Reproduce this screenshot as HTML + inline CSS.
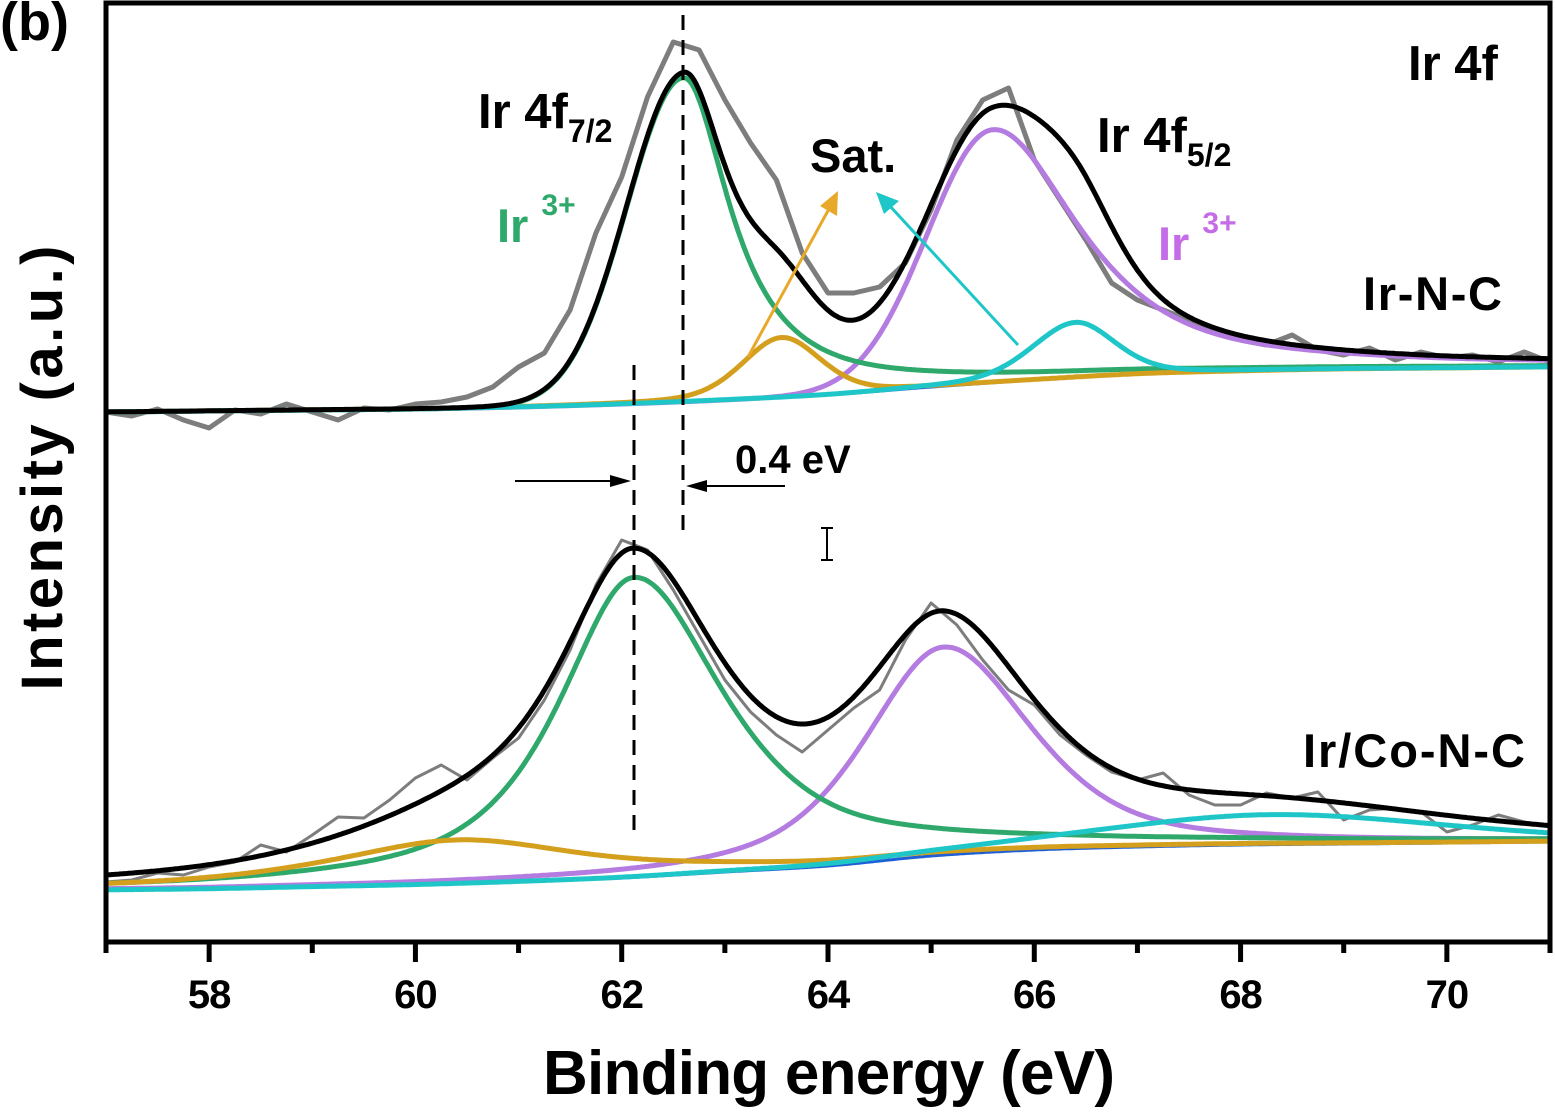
<!DOCTYPE html>
<html>
<head>
<meta charset="utf-8">
<style>
  html,body{margin:0;padding:0;background:#fff;}
  svg{display:block;}
  text{font-family:"Liberation Sans",Arial,sans-serif;font-weight:bold;}
</style>
</head>
<body>
<svg id="chart" width="1555" height="1118" viewBox="0 0 1555 1118" xmlns="http://www.w3.org/2000/svg">
  <g id="curves"></g>
  <g id="annot">
    <line x1="683" y1="15" x2="683" y2="535" stroke="#000" stroke-width="3" stroke-dasharray="15 10"/>
    <line x1="634" y1="365" x2="634" y2="838" stroke="#000" stroke-width="3" stroke-dasharray="15 10"/>
    <line x1="515" y1="481" x2="612" y2="481" stroke="#000" stroke-width="2"/>
    <polygon points="631,481 610,475 610,487" fill="#000"/>
    <line x1="785" y1="486" x2="704" y2="486" stroke="#000" stroke-width="2"/>
    <polygon points="686,486 707,480 707,492" fill="#000"/>
    <line x1="748" y1="357" x2="830" y2="207" stroke="#e8a92a" stroke-width="3"/>
    <polygon points="838,191 837,216 820,206" fill="#e8a92a"/>
    <line x1="1018" y1="345" x2="889" y2="205" stroke="#1fc6c8" stroke-width="3"/>
    <polygon points="876,192 899,201 884,214" fill="#1fc6c8"/>
    <g stroke="#000" stroke-width="2">
      <line x1="827" y1="528" x2="827" y2="560"/>
      <line x1="821" y1="528" x2="833" y2="528"/>
      <line x1="821" y1="560" x2="833" y2="560"/>
    </g>
  </g>
  <rect x="106" y="3" width="1444" height="939" fill="none" stroke="#000" stroke-width="5"/>
  <g id="xaxis"></g>
  <text x="0" y="40" font-size="54">(b)</text>
  <text x="1408" y="80" font-size="49">Ir 4f</text>
  <text x="478" y="128" font-size="49">Ir 4f<tspan font-size="32" dy="14">7/2</tspan></text>
  <text x="1097" y="152" font-size="49">Ir 4f<tspan font-size="32" dy="14">5/2</tspan></text>
  <text x="497" y="242" font-size="47" fill="#2ea86b">Ir <tspan font-size="30" dy="-27">3+</tspan></text>
  <text x="1158" y="260" font-size="47" fill="#c56de6">Ir <tspan font-size="30" dy="-27">3+</tspan></text>
  <text x="810" y="172" font-size="47">Sat.</text>
  <text x="1363" y="310" font-size="47" textLength="139">Ir-N-C</text>
  <text x="1303" y="767" font-size="47" textLength="222">Ir/Co-N-C</text>
  <text x="735" y="473" font-size="40">0.4 eV</text>
  <text x="829" y="1094" font-size="62" text-anchor="middle" textLength="572">Binding energy (eV)</text>
  <text transform="translate(62,468) rotate(-90)" font-size="58" text-anchor="middle" textLength="445">Intensity (a.u.)</text>
</svg>
<script>
// ---- data ----
const xTicks = [58, 60, 62, 64, 66, 68, 70];
const xMinorTicks = [57, 59, 61, 63, 65, 67, 69, 71];
const bgEnergies = [57, 58, 59, 60, 61, 62, 63, 64, 65, 66, 67, 68, 69, 70, 71];
const bgTop = [530, 531, 532, 533, 535, 538, 542, 547, 555, 562, 568, 571, 573, 574, 575];
const bgBottom = [52, 53, 55, 57, 60, 64, 70, 76, 86, 92, 95, 97, 98, 99, 100];
const componentNames = ["ir3-4f72", "satellite-1", "ir3-4f52", "satellite-2"];
const topCenters = [62.6, 63.55, 65.6, 66.4];
const topHeights = [324, 60, 253, 55];
const topFwhmLeft = [1.3, 0.9, 1.5, 1.0];
const topFwhmRight = [1.1, 0.9, 2.0, 0.9];
const topEtaLeft = [0.0, 0.3, 0.0, 0.3];
const topEtaRight = [1.0, 0.3, 0.8, 0.3];
const botCenters = [62.12, 60.4, 65.12, 68.3];
const botHeights = [300, 44, 208, 30];
const botFwhmLeft = [1.75, 3.0, 1.8, 4.0];
const botFwhmRight = [2.1, 3.0, 2.0, 4.0];
const botEtaLeft = [0.8, 0.9, 0.55, 0.3];
const botEtaRight = [0.8, 0.9, 0.55, 0.3];
const rawStart = 57, rawStep = 0.25;
const rawTop = [530,526,533,522,514,532,528,538,530,522,534,532,538,540,545,555,575,589,632,709,765,845,900,892,842,799,762,689,649,649,655,679,732,802,842,854,782,742,702,659,642,632,622,612,602,597,607,592,587,594,582,590,584,587,580,590,580];
const rawBottom = [60,62,69,67,75,80,97,90,107,125,124,142,164,177,162,184,204,242,292,357,402,392,352,307,262,230,207,190,212,234,252,302,339,317,282,252,237,207,187,170,162,169,147,137,137,149,144,150,122,132,134,130,110,117,127,120,115];

// ---- scales ----
const X0 = 106, X1 = 1550, EMIN = 57, EMAX = 71, YBASE = 942;
function xs(e){ return X0 + (e - EMIN) * (X1 - X0) / (EMAX - EMIN); }
function ys(v){ return YBASE - v; }

const NS = "http://www.w3.org/2000/svg";
const curves = document.getElementById("curves");
const xaxis = document.getElementById("xaxis");

function bgAt(arr, e){
  const t = (e - bgEnergies[0]);
  let i = Math.floor(t); if (i < 0) i = 0; if (i > arr.length - 2) i = arr.length - 2;
  const u = t - i;
  const p0 = arr[Math.max(i-1,0)], p1 = arr[i], p2 = arr[i+1], p3 = arr[Math.min(i+2, arr.length-1)];
  return 0.5*((2*p1) + (-p0+p2)*u + (2*p0-5*p1+4*p2-p3)*u*u + (-p0+3*p1-3*p2+p3)*u*u*u);
}
function pv(e, c, h, wl, wr, el, er){
  const d = e - c;
  const w = d < 0 ? wl : wr;
  const eta = d < 0 ? el : er;
  const t = 2*d/w;
  return h*(eta/(1+t*t) + (1-eta)*Math.exp(-Math.LN2*t*t));
}
function pathFrom(pts){
  return pts.map((p,i)=>(i?"L":"M")+p[0].toFixed(1)+","+p[1].toFixed(1)).join(" ");
}
function addPath(d, color, width, name){
  const p = document.createElementNS(NS, "path");
  p.setAttribute("d", d);
  p.setAttribute("fill", "none");
  p.setAttribute("stroke", color);
  p.setAttribute("stroke-width", width);
  p.setAttribute("stroke-linejoin", "round");
  p.setAttribute("stroke-linecap", "round");
  
  
  curves.appendChild(p);
}

const compColors = ["#2ea86b", "#d49f1c", "#b47be0", "#1fc6c8"];
const drawOrder = [2, 0, 1, 3];

function drawSpectrum(prefix, bg, raw, rawWidth, C, H, WL, WR, EL, ER){
  const rp = raw.map((v,i)=>[xs(rawStart + i*rawStep), ys(v)]);
  addPath(pathFrom(rp), "#7d7d7d", rawWidth, prefix + "-raw-data");
  const grid = [];
  for (let e = EMIN; e <= EMAX + 1e-9; e += 0.02) grid.push(e);
  addPath(pathFrom(grid.map(e=>[xs(e), ys(bgAt(bg, e))])), "#1f5fd6", 3, prefix + "-background");
  drawOrder.forEach(k=>{
    const pts = grid.map(e=>[xs(e), ys(bgAt(bg,e) + pv(e, C[k], H[k], WL[k], WR[k], EL[k], ER[k]))]);
    addPath(pathFrom(pts), compColors[k], 5, prefix + "-" + componentNames[k]);
  });
  const env = grid.map(e=>{
    let s = bgAt(bg, e);
    for (let k = 0; k < C.length; k++) s += pv(e, C[k], H[k], WL[k], WR[k], EL[k], ER[k]);
    return [xs(e), ys(s)];
  });
  addPath(pathFrom(env), "#000", 5, prefix + "-envelope");
}

drawSpectrum("ir-n-c", bgTop, rawTop, 5, topCenters, topHeights, topFwhmLeft, topFwhmRight, topEtaLeft, topEtaRight);
drawSpectrum("ir-co-n-c", bgBottom, rawBottom, 3, botCenters, botHeights, botFwhmLeft, botFwhmRight, botEtaLeft, botEtaRight);

xTicks.forEach(t=>{
  const l = document.createElementNS(NS, "line");
  l.setAttribute("x1", xs(t)); l.setAttribute("x2", xs(t));
  l.setAttribute("y1", YBASE); l.setAttribute("y2", YBASE + 20);
  l.setAttribute("stroke", "#000"); l.setAttribute("stroke-width", 5);
  
  
  xaxis.appendChild(l);
  const tx = document.createElementNS(NS, "text");
  tx.setAttribute("x", xs(t)); tx.setAttribute("y", 1008);
  tx.setAttribute("text-anchor", "middle");
  tx.setAttribute("font-size", "40");
  tx.setAttribute("letter-spacing", "-1");
  tx.textContent = t;
  
  
  xaxis.appendChild(tx);
});
xMinorTicks.forEach(t=>{
  const l = document.createElementNS(NS, "line");
  l.setAttribute("x1", xs(t)); l.setAttribute("x2", xs(t));
  l.setAttribute("y1", YBASE); l.setAttribute("y2", YBASE + 11);
  l.setAttribute("stroke", "#000"); l.setAttribute("stroke-width", 5);
  
  
  xaxis.appendChild(l);
});
</script>
</body>
</html>
